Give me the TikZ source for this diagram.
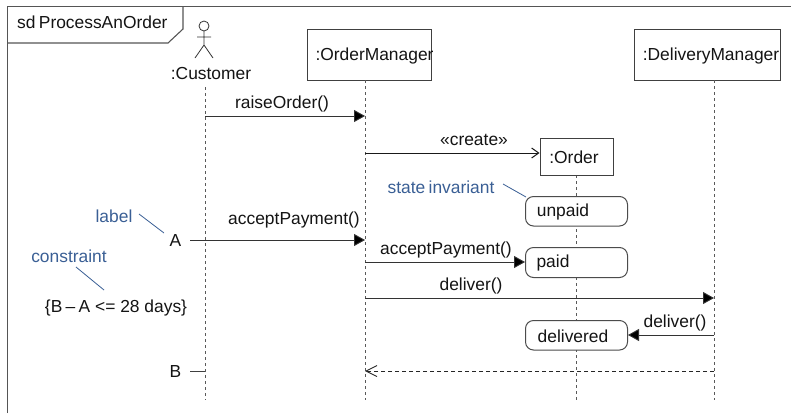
\documentclass[tikz,border=0pt]{standalone}
\usepackage{fontspec}
\setmainfont{Liberation Sans}
\usetikzlibrary{arrows.meta}
\definecolor{note}{HTML}{3A5F95}
\definecolor{frameline}{HTML}{555555}
\tikzset{
  x=1pt,y=-1pt,
  every node/.style={font=\fontsize{17.4}{20}\selectfont,inner sep=0pt,text=black!92},
  txt/.style={anchor=center},
  notetxt/.style={anchor=center,text=note},
  noteline/.style={draw=note,line width=0.8pt},
  lifebox/.style={draw=black!75,line width=1pt,fill=white,anchor=north west},
  statebox/.style={draw=black!70,line width=1pt,fill=white,rounded corners=8pt,anchor=north west,minimum width=102pt},
  lifeline/.style={draw=black!65,line width=1pt,dash pattern=on 3pt off 3pt},
  syncmsg/.style={draw=black!80,line width=0.9pt,-{Triangle[length=11pt,width=12pt,fill=black]}},
  createmsg/.style={draw=black!90,line width=1pt,-{Straight Barb[length=7pt,width=10pt]}},
  replymsg/.style={draw=black!85,line width=0.9pt,dash pattern=on 4pt off 3pt,-{Straight Barb[length=11pt,width=11pt]}},
  tick/.style={draw=black!75,line width=0.8pt},
  stick/.style={draw=black!80,line width=0.8pt},
  frameedge/.style={draw=frameline,line width=1.1pt}
}
\begin{document}
\begin{tikzpicture}
\useasboundingbox (0,0) rectangle (791,413);
\fill[white] (0,0) rectangle (791,413);
% frame
\draw[frameedge] (7.5,413) -- (7.5,6.5) -- (791,6.5);
\draw[frameedge] (7.5,43) -- (168,43) -- (183,29) -- (183,6.5);
\node[txt,anchor=west] (title) at (17,22) {sd\hspace{-1.5pt} ProcessAnOrder};
% actor
\draw[stick] (204,26) circle (5);
\draw[stick] (204,31) -- (204,45) (197,37) -- (211,37) (204,45) -- (195,58) (204,45) -- (213,58);
\node[txt] (customer) at (211,74) {:Customer};
% lifeline heads
\node[lifebox,minimum width=124.5pt,minimum height=51pt] (om) at (306.5,28.5) {};
\node[txt] at (374.5,55.5) {:OrderManager};
\node[lifebox,minimum width=146pt,minimum height=51pt] (dm) at (634,28.5) {};
\node[txt] at (711,55.5) {:DeliveryManager};
\coordinate (cuTop) at (205,87);
\coordinate (cuEnd) at (205,400);
\coordinate (omTop) at (365,80);
\coordinate (omEnd) at (365,400);
\coordinate (dmTop) at (714,80);
\coordinate (dmEnd) at (714,400);
\coordinate (orTop) at (576,175);
\coordinate (orEnd) at (576,400);
\draw[lifeline] (cuTop) -- (cuEnd);
\draw[lifeline] (omTop) -- (omEnd);
\draw[lifeline] (dmTop) -- (dmEnd);
\draw[lifeline] (orTop) -- (orEnd);
% order and states
\node[lifebox,minimum width=73pt,minimum height=37pt] (order) at (539.5,137.5) {};
\node[txt] at (574,157.5) {:Order};
\node[statebox,minimum height=29.5pt] (unpaid) at (525,196) {};
\node[txt] at (563,212) {unpaid};
\node[statebox,minimum height=30pt] (paid) at (525,247) {};
\node[txt] at (553,263) {paid};
\node[statebox,minimum height=29.5pt] (delivered) at (525,320) {};
\node[txt] at (573,336) {delivered};
% messages
\coordinate (m1a) at (205,116); \coordinate (m1b) at (365,116);
\coordinate (m2a) at (365,153);
\coordinate (m3a) at (190,240); \coordinate (m3b) at (365,240);
\coordinate (m4a) at (365,262);
\coordinate (m5a) at (365,298); \coordinate (m5b) at (714,298);
\coordinate (m6a) at (714,335);
\coordinate (m7a) at (714,371); \coordinate (m7b) at (365,371);
\coordinate (tka) at (190,371); \coordinate (tkb) at (205,371);
\draw[syncmsg] (m1a) -- (m1b);
\draw[createmsg] (m2a) -- (order.west |- m2a);
\draw[syncmsg] (m3a) -- (m3b);
\draw[syncmsg] (m4a) -- (paid.west |- m4a);
\draw[syncmsg] (m5a) -- (m5b);
\draw[syncmsg] (m6a) -- (delivered.east |- m6a);
\draw[replymsg] (m7a) -- (m7b);
\draw[tick] (tka) -- (tkb);
% message labels
\node[txt] at (282,104) {raiseOrder()};
\node[txt] at (474,140) {«create»};
\node[txt] at (294,220) {acceptPayment()};
\node[txt] at (446,249.5) {acceptPayment()};
\node[txt] at (471,286) {deliver()};
\node[txt] at (675,322.5) {deliver()};
% annotations
\node[txt] (A) at (175.5,241) {A};
\node[txt] (B) at (175.5,372) {B};
\node[txt] (cons) at (116,308) {\{B\hspace{-1.5pt} –\hspace{-1.5pt} A <= 28 days\}};
\node[notetxt] (lab) at (114,216) {label};
\node[notetxt] (ctr) at (69,256.5) {constraint};
\node[notetxt] (si) at (441,187.5) {state\hspace{-1.5pt} invariant};
\coordinate (l1) at (139,214); \coordinate (l2) at (164,233);
\coordinate (c1) at (76,267); \coordinate (c2) at (104,290);
\coordinate (s1) at (503,184); \coordinate (s2) at (526,197);
\draw[noteline] (l1) -- (l2);
\draw[noteline] (c1) -- (c2);
\draw[noteline] (s1) -- (s2);
\end{tikzpicture}
\end{document}
